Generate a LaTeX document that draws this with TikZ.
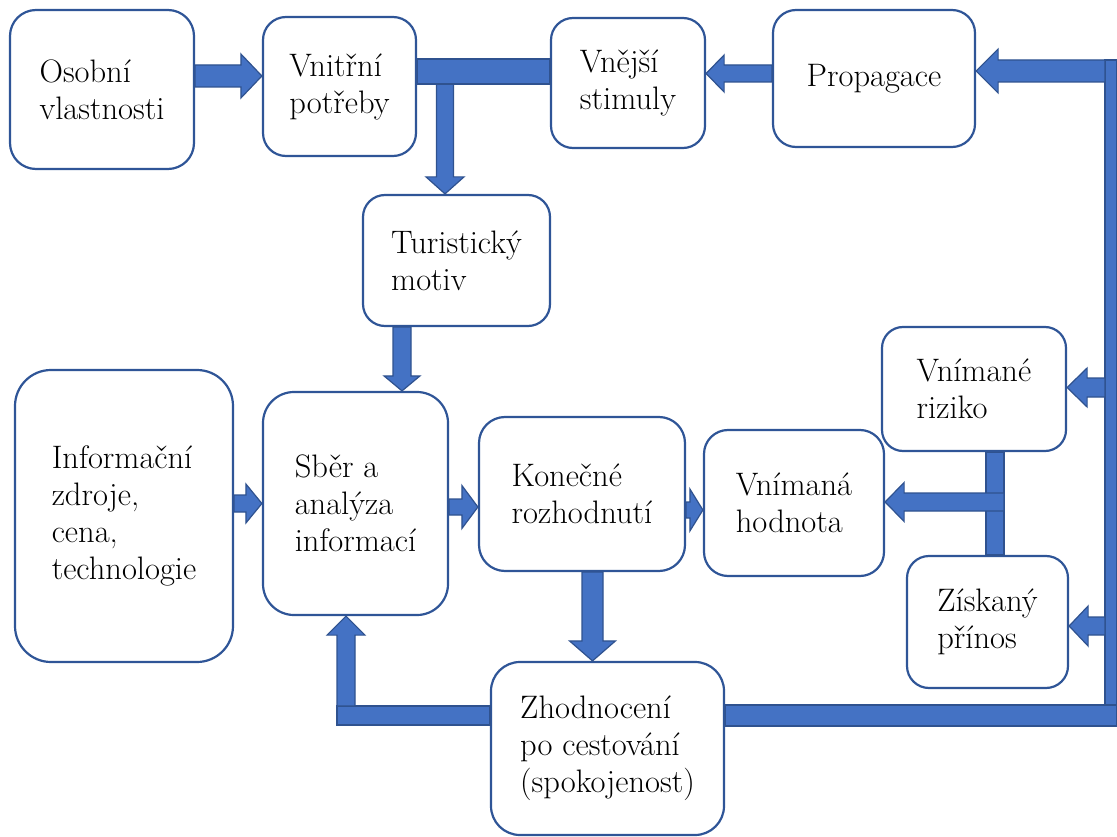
\documentclass[tikz,border=0pt]{standalone}
\usepackage{fontspec}
\usetikzlibrary{calc}
\definecolor{arrf}{HTML}{4472C4}
\definecolor{arrd}{HTML}{2F528F}
\definecolor{boxc}{HTML}{2F5597}
\newcommand\fs{\fontsize{32.5}{37}\selectfont}
% horizontal block arrow: start, end, half shaft, half head, head length
\newcommand\HArr[5]{\path[barrow] let \p1=#1,\p2=#2,\n1={ifthenelse(\x2>\x1,1,-1)} in
 (\x1,\y1+#3) -- (\x2-\n1*#5,\y1+#3) -- (\x2-\n1*#5,\y1+#4) -- (\x2,\y1)
 -- (\x2-\n1*#5,\y1-#4) -- (\x2-\n1*#5,\y1-#3) -- (\x1,\y1-#3) -- cycle;}
% vertical block arrow
\newcommand\VArr[5]{\path[barrow] let \p1=#1,\p2=#2,\n1={ifthenelse(\y2>\y1,1,-1)} in
 (\x1-#3,\y1) -- (\x1-#3,\y2-\n1*#5) -- (\x1-#4,\y2-\n1*#5) -- (\x1,\y2)
 -- (\x1+#4,\y2-\n1*#5) -- (\x1+#3,\y2-\n1*#5) -- (\x1+#3,\y1) -- cycle;}
\begin{document}
\begin{tikzpicture}[x=1pt,y=-1pt,
  box/.style={draw=boxc, line width=2.2pt, fill=white, inner sep=0pt,
    align=left, font=\fs, text=black},
  barrow/.style={fill=arrf, draw=arrd, line width=1.2pt, line join=miter}]
\useasboundingbox (0,0) rectangle (1117,837);
% boxes
\node[box, minimum width=184pt, minimum height=159pt, rounded corners=26pt] (osobni) at (102,89.5) {Osobní\\vlastnosti};
\node[box, minimum width=153pt, minimum height=139pt, rounded corners=23pt] (vnitrni) at (339.5,86.5) {Vnitřní\\potřeby};
\node[box, minimum width=154pt, minimum height=130pt, rounded corners=22pt] (vnejsi) at (628,83) {Vnější\\stimuly};
\node[box, minimum width=202pt, minimum height=137pt, rounded corners=23pt] (propagace) at (874,78.5) {Propagace};
\node[box, minimum width=187pt, minimum height=131pt, rounded corners=22pt] (motiv) at (456.5,260.5) {Turistický\\motiv};
\node[box, minimum width=218pt, minimum height=292pt, rounded corners=36pt] (zdroje) at (124,516) {Informační\\zdroje,\\cena,\\technologie};
\node[box, minimum width=185pt, minimum height=223pt, rounded corners=31pt] (sber) at (355.5,503.5) {Sběr a\\analýza\\informací};
\node[box, minimum width=206pt, minimum height=154pt, rounded corners=26pt] (rozhod) at (582,494) {Konečné\\rozhodnutí};
\node[box, minimum width=180pt, minimum height=146pt, rounded corners=24pt] (hodnota) at (794,503) {Vnímaná\\hodnota};
\node[box, minimum width=184pt, minimum height=124pt, rounded corners=21pt] (riziko) at (974,389) {Vnímané\\riziko};
\node[box, minimum width=161pt, minimum height=132pt, rounded corners=22pt] (prinos) at (987.5,622) {Získaný\\přínos};
\node[box, minimum width=233pt, minimum height=173pt, rounded corners=29pt] (zhodn) at (607.5,748.5) {Zhodnocení\\po cestování\\(spokojenost)};
% junction / free-end coordinates
\coordinate (j1) at (445,84);
\coordinate (rtop) at (1105,60);
\coordinate (redge) at (1117,726);
\coordinate (j2) at (1004,502);
\coordinate (j3) at (346,706);
% connectors
\HArr{(osobni.east|-0,76)}{(vnitrni.west|-0,76)}{11pt}{22pt}{21pt}
\VArr{(j1)}{(motiv.north-|j1)}{8.5pt}{19pt}{17pt}
\path[barrow] (vnitrni.east|-0,59) rectangle (vnejsi.west|-0,84);
\HArr{(propagace.west|-0,73.5)}{(vnejsi.east|-0,73.5)}{8.5pt}{18.5pt}{18pt}
\path[barrow] (rtop) rectangle (redge);
\path[barrow] (zhodn.east|-0,705) rectangle (redge);
\HArr{(1105,71)}{(propagace.east|-0,71)}{11pt}{22pt}{22pt}
\HArr{(1105,387.5)}{(riziko.east|-0,387.5)}{9.5pt}{19.5pt}{20pt}
\HArr{(1105,626)}{(prinos.east|-0,626)}{9pt}{20pt}{19pt}
\path[barrow] (riziko.south-|986,0) rectangle (prinos.north-|1004,0);
\HArr{(j2)}{(hodnota.east|-j2)}{9pt}{19.5pt}{19pt}
\VArr{(motiv.south-|402,0)}{(sber.north-|402,0)}{9pt}{18pt}{15pt}
\HArr{(zdroje.east|-0,503.5)}{(sber.west|-0,503.5)}{8.5pt}{19.5pt}{16pt}
\HArr{(sber.east|-0,507)}{(rozhod.west|-0,507)}{8pt}{21.5pt}{16pt}
\HArr{(rozhod.east|-0,510)}{(hodnota.west|-0,510)}{8pt}{21pt}{13pt}
\VArr{(rozhod.south-|592.5,0)}{(zhodn.north-|592.5,0)}{10.5pt}{23pt}{20pt}
\path[barrow] (337,706) rectangle (zhodn.west|-0,725);
\VArr{(j3)}{(sber.south-|j3)}{9pt}{19pt}{19pt}
\end{tikzpicture}
\end{document}
